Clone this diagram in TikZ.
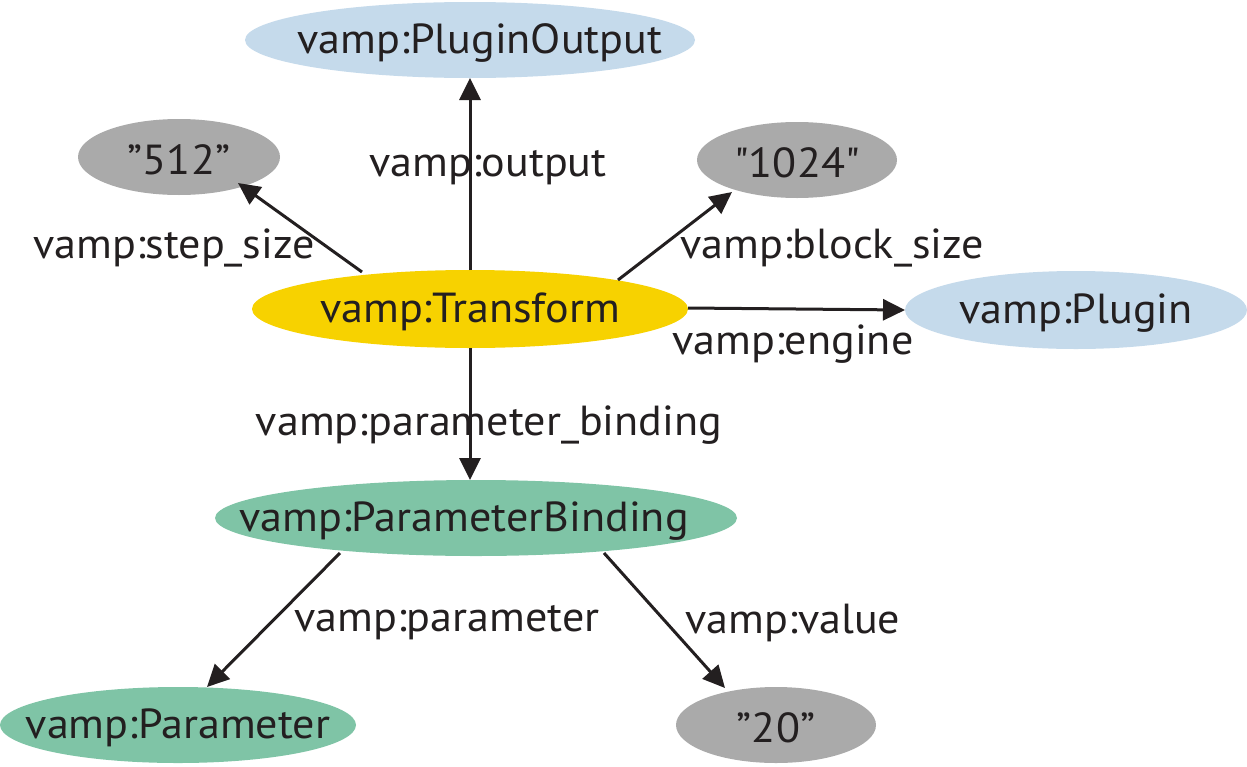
\documentclass[tikz,border=0pt]{standalone}
\usepackage{fontspec}
\setmainfont{PT Sans}[FakeStretch=1.05]
\newfontfamily\rawfont{PT Sans}[FakeStretch=1.05]
\usetikzlibrary{arrows.meta}
\definecolor{lblue}{HTML}{C5DAEB}
\definecolor{gold}{HTML}{F7D200}
\definecolor{mint}{HTML}{7FC4A6}
\definecolor{lgrey}{HTML}{AAAAAA}
\definecolor{ink}{HTML}{231F20}
\begin{document}
\begin{tikzpicture}[x=1pt,y=-1pt,
  every node/.style={font=\fontsize{42}{50}\selectfont, text=ink},
  conn/.style={draw=ink, line width=3pt, -{Triangle[length=22pt,width=21pt]}},
  lbl/.style={inner sep=0pt, yshift=-3pt}]
\useasboundingbox (0,0) rectangle (1247,766);
\fill[lblue] (470,40) ellipse [x radius=225, y radius=38];
\fill[lgrey] (179,157) ellipse [x radius=101, y radius=38];
\fill[lgrey] (797,160) ellipse [x radius=100, y radius=38];
\fill[gold] (470,309) ellipse [x radius=218, y radius=39];
\fill[lblue] (1076,310) ellipse [x radius=171, y radius=39];
\fill[mint] (476,518) ellipse [x radius=261, y radius=38];
\fill[mint] (178,725) ellipse [x radius=178, y radius=38];
\fill[lgrey] (776,725) ellipse [x radius=100, y radius=38];
\node[lbl] (po) at (480,40) {vamp:PluginOutput};
\node[lbl] (s512) at (179,157) {”512”};
\node[lbl] (s1024) at (797,160) {\rawfont\fontsize{42}{50}\selectfont "1024"};
\node[lbl] (tr) at (470,309) {vamp:Transform};
\node[lbl] (pl) at (1076,310) {vamp:Plugin};
\node[lbl] (pb) at (464,518) {vamp:ParameterBinding};
\node[lbl] (pa) at (178,725) {vamp:Parameter};
\node[lbl] (s20) at (776,725) {”20”};
\coordinate (tTop) at (470,270);
\coordinate (poB) at (470,78);
\coordinate (tTL) at (362,272);
\coordinate (s512B) at (238,183);
\coordinate (tTR) at (618,280);
\coordinate (s1024B) at (732,192);
\coordinate (tR) at (688,308);
\coordinate (plL) at (905,310);
\coordinate (tB) at (470,348);
\coordinate (pbT) at (470,480);
\coordinate (pbBL) at (340,553);
\coordinate (paT) at (207,687);
\coordinate (pbBR) at (604,553);
\coordinate (s20T) at (725,688);
\node[lbl] (l1) at (488,165) {vamp:output};
\node[lbl] (l2) at (174,245) {vamp:step\_size};
\node[lbl] (l3) at (832,245) {vamp:block\_size};
\node[lbl] (l4) at (793,341) {vamp:engine};
\node[lbl] (l5) at (489,422) {vamp:parameter\_binding};
\node[lbl] (l6) at (447,620) {vamp:parameter};
\node[lbl] (l7) at (793,620) {vamp:value};
\draw[conn] (tTop) -- (poB);
\draw[conn] (tTL) -- (s512B);
\draw[conn] (tTR) -- (s1024B);
\draw[conn] (tR) -- (plL);
\draw[conn] (tB) -- (pbT);
\draw[conn] (pbBL) -- (paT);
\draw[conn] (pbBR) -- (s20T);
\end{tikzpicture}
\end{document}
